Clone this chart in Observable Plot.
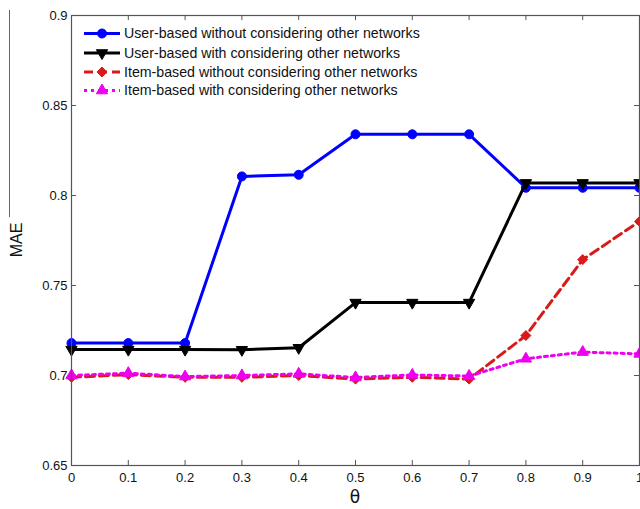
<!DOCTYPE html>
<html><head><meta charset="utf-8">
<script src="https://cdn.jsdelivr.net/npm/d3@7"></script>
<script src="https://cdn.jsdelivr.net/npm/@observablehq/plot@0.6"></script>
<style>body{margin:0;background:#fff}#chart{width:640px;height:509px}</style>
</head><body><div id="chart"></div>
<script>
const thetas = [0, 0.1, 0.2, 0.3, 0.4, 0.5, 0.6, 0.7, 0.8, 0.9, 1];
const userWithout = [0.718, 0.718, 0.718, 0.8106, 0.8115, 0.834, 0.834, 0.834, 0.8043, 0.8043, 0.8043];
const userWith = [0.7144, 0.7144, 0.7144, 0.7143, 0.7154, 0.7405, 0.7405, 0.7405, 0.807, 0.807, 0.807];
const itemWithout = [0.699, 0.7005, 0.699, 0.699, 0.7, 0.698, 0.699, 0.698, 0.7222, 0.7644, 0.7856];
const itemWith = [0.7, 0.7013, 0.6994, 0.7, 0.7009, 0.6989, 0.7003, 0.6997, 0.7093, 0.713, 0.712];
const seriesNames = [
  "User-based without considering other networks",
  "User-based with considering other networks",
  "Item-based without considering other networks",
  "Item-based with considering other networks"
];
const xTicks = [0, 0.1, 0.2, 0.3, 0.4, 0.5, 0.6, 0.7, 0.8, 0.9, 1];
const yTicks = [0.65, 0.7, 0.75, 0.8, 0.85, 0.9];

const styles = [
  {color: "#0000ff", symbol: "circle", rotate: 0, dash: null, width: 3, r: 4.5},
  {color: "#000000", symbol: "triangle", rotate: 180, dash: null, width: 3, r: 4.2},
  {color: "#d91a1a", symbol: "diamond2", rotate: 0, dash: "9,5", width: 3, r: 4.5},
  {color: "#ee00ee", symbol: "triangle", rotate: 0, dash: "3,4", width: 3, r: 4.2}
];
const allValues = [userWithout, userWith, itemWithout, itemWith];
const series = seriesNames.map((name, i) => ({name, values: allValues[i], ...styles[i]}));

const fmt = d => String(+d.toFixed(2));
const axisColor = "#555";
const tx = 0.0088, ty = 0.0028; // tick length in data units (~5px)

const marks = [
  Plot.axisX({ticks: xTicks, tickSize: 0, tickPadding: 7, tickFormat: fmt, label: null, fontSize: 13}),
  Plot.axisY({ticks: yTicks, tickSize: 0, tickPadding: 4, tickFormat: fmt, label: null, fontSize: 13}),
  Plot.ruleX(xTicks, {x: d => d, y1: 0.65, y2: 0.65 + ty, stroke: axisColor}),
  Plot.ruleX(xTicks, {x: d => d, y1: 0.9, y2: 0.9 - ty, stroke: axisColor}),
  Plot.ruleY(yTicks, {y: d => d, x1: 0, x2: tx, stroke: axisColor}),
  Plot.ruleY(yTicks, {y: d => d, x1: 1, x2: 1 - tx, stroke: axisColor})
];
for (const s of series) {
  const rows = thetas.map((t, i) => ({theta: t, mae: s.values[i]}));
  marks.push(Plot.line(rows, {x: "theta", y: "mae", stroke: s.color, strokeWidth: s.width, strokeDasharray: s.dash, strokeLinejoin: "round"}));
  marks.push(Plot.dot(rows, {x: "theta", y: "mae", fill: s.color, stroke: s.color, strokeWidth: 1, symbol: s.symbol, r: s.r, rotate: s.rotate}));
}
marks.push(Plot.frame({stroke: axisColor, strokeWidth: 1.2}));

const plot = Plot.plot({
  width: 640, height: 509,
  marginLeft: 71, marginRight: 1, marginTop: 15, marginBottom: 44,
  style: {fontFamily: "'Liberation Sans', Arial, sans-serif", fontSize: "13px", background: "white", color: "#111"},
  x: {domain: [0, 1]},
  y: {domain: [0.65, 0.9]},
  marks
});
document.getElementById("chart").appendChild(plot);

// legend and axis titles
const svg = d3.select(plot);
const lg = svg.append("g").attr("font-family", "'Liberation Sans', Arial, sans-serif").attr("font-size", 14.2).attr("text-anchor", "start");
const rowY = [33.5, 53, 72, 90.5];
series.forEach((s, i) => {
  const y = rowY[i];
  lg.append("line").attr("x1", 84).attr("x2", 120).attr("y1", y).attr("y2", y)
    .attr("stroke", s.color).attr("stroke-width", s.width).attr("stroke-dasharray", s.dash);
  const sym = {circle: d3.symbolCircle, triangle: d3.symbolTriangle, diamond2: d3.symbolDiamond2}[s.symbol];
  lg.append("path").attr("d", d3.symbol(sym, Math.PI * s.r * s.r)())
    .attr("transform", `translate(102,${y}) rotate(${s.rotate})`)
    .attr("fill", s.color).attr("stroke", s.color);
  lg.append("text").attr("x", 124).attr("y", y).attr("dy", "0.35em").attr("fill", "#111").text(s.name);
});
svg.append("text").attr("x", 355).attr("y", 503).attr("text-anchor", "middle")
  .attr("font-family", "'DejaVu Sans', sans-serif").attr("font-size", 17).attr("fill", "#111").text("θ");
svg.append("text").attr("transform", "translate(22,240) rotate(-90)").attr("text-anchor", "middle")
  .attr("font-family", "'Liberation Sans', Arial, sans-serif").attr("font-size", 16).attr("fill", "#111").text("MAE");
svg.append("line").attr("x1", 9.5).attr("x2", 9.5).attr("y1", 10).attr("y2", 217).attr("stroke", "#666").attr("stroke-width", 1);
</script>
</body></html>
